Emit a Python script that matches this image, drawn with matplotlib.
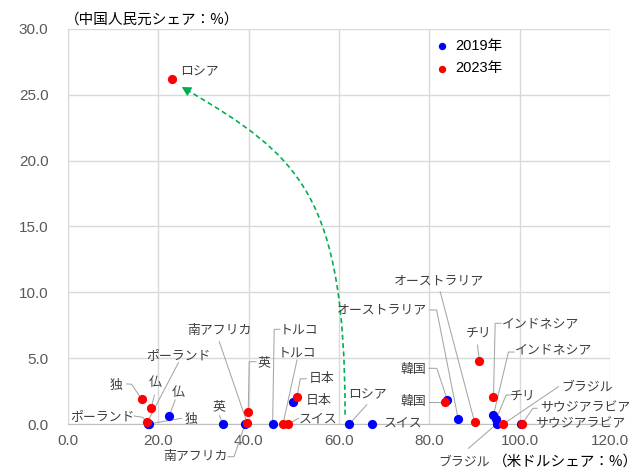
import matplotlib
matplotlib.use("Agg")
import matplotlib.pyplot as plt
import numpy as np
from matplotlib.path import Path
from matplotlib.patches import PathPatch
from matplotlib.ticker import FormatStrFormatter

plt.rcParams['font.family'] = ['Liberation Sans', 'Noto Sans CJK JP']

# ---- data: (USD share %, CNY share %) per country ----
countries = ['ロシア', '仏', '独', 'ポーランド', '英', '南アフリカ', 'トルコ', '日本',
             'スイス', '韓国', 'オーストラリア', 'インドネシア', 'チリ', 'ブラジル', 'サウジアラビア']
usd_2019 = [62.3, 22.4, 17.9, 17.8, 34.3, 39.2, 45.3, 49.9, 67.3, 84.0, 86.4, 94.2, 94.8, 94.9, 100.3]
cny_2019 = [0.0, 0.63, 0.0, 0.0, 0.0, 0.0, 0.0, 1.69, 0.0, 1.82, 0.36, 0.68, 0.38, 0.0, 0.0]
usd_2023 = [23.1, 18.4, 16.3, 17.6, 39.9, 39.7, 47.6, 50.7, 48.8, 83.5, 90.0, 94.2, 91.1, 96.4, 100.5]
cny_2023 = [26.2, 1.19, 1.88, 0.17, 0.89, 0.05, 0.0, 2.07, 0.0, 1.69, 0.17, 2.03, 4.78, 0.0, 0.0]
series_names = ['2019年', '2023年']
x_ticks = [0, 20, 40, 60, 80, 100, 120]
y_ticks = [0, 5, 10, 15, 20, 25, 30]

W, H = 641, 470
fig = plt.figure(figsize=(W / 100, H / 100), dpi=100)
ax = fig.add_axes([68 / W, 46 / H, 542 / W, 395 / H])
ax.set_xlim(x_ticks[0], x_ticks[-1])
ax.set_ylim(y_ticks[0], y_ticks[-1])
ax.set_xticks(x_ticks)
ax.set_yticks(y_ticks)
ax.xaxis.set_major_formatter(FormatStrFormatter('%.1f'))
ax.yaxis.set_major_formatter(FormatStrFormatter('%.1f'))
ax.grid(color='#D9D9D9', lw=1.0)
ax.set_axisbelow(True)
for side in ['top', 'right']:
    ax.spines[side].set_visible(False)
ax.spines['left'].set_color('#D9D9D9')
ax.spines['bottom'].set_color('#BFBFBF')
ax.tick_params(length=0, labelsize=11, labelcolor='#595959')
ax.tick_params(axis='y', pad=14)
ax.tick_params(axis='x', pad=7)

ax.scatter(usd_2019, cny_2019, s=44, c='#0000FF', linewidths=0, zorder=3,
           label=series_names[0], clip_on=False)
ax.scatter(usd_2023, cny_2023, s=44, c='#FF0000', linewidths=0, zorder=4,
           label=series_names[1], clip_on=False)


def shift(x, y, dx, dy):
    """Move a data point by (dx, dy) pixels, dy measured downwards."""
    X, Y = ax.transData.transform((x, y))
    return ax.transData.inverted().transform((X + dx, Y - dy))


# label layout: (country, year index, text offset px, leader waypoints px)
label_layout = [
    ('ロシア', 1, (26.7, -7), []),
    ('ポーランド', 1, (31, -65.9), [(31, -59.2)]),
    ('ポーランド', 0, (-46, -7), [(-14.3, -8), (-5.6, -6.7)]),
    ('独', 1, (-25.9, -13.5), [(-15, -15.3), (-10, -15)]),
    ('仏', 1, (4.5, -26.3), [(3.3, -13.3)]),
    ('仏', 0, (8.5, -23.2), [(6, -15.7)]),
    ('独', 0, (41.8, -4.2), [(32.7, -5.7)]),
    ('英', 0, (-3.7, -16.8), [(-3.4, -8.3)]),
    ('南アフリカ', 1, (-28.1, -92.5), [(-28, -81.6)]),
    ('英', 1, (15.9, -49.8), [(7.7, -50.6), (1, -50.6)]),
    ('南アフリカ', 0, (-50, 32.7), [(-17, 32.7), (-11, 32.7)]),
    ('トルコ', 0, (26.3, -94), [(7.3, -94.7), (1.6, -94.7)]),
    ('トルコ', 1, (14, -70.7), [(14, -64)]),
    ('日本', 1, (25, -18), [(9.3, -18), (3.3, -18)]),
    ('日本', 0, (25, -1.7), []),
    ('スイス', 1, (30, -5), [(10, -5.7)]),
    ('ロシア', 0, (18.2, -29.3), [(17.4, -19.3)]),
    ('スイス', 0, (31.3, -0.5), [(11.3, 0)]),
    ('オーストラリア', 1, (-35.1, -140.9), [(-34.3, -130)]),
    ('オーストラリア', 0, (-76.6, -109.3), [(-28.3, -109.3), (-21.6, -109.3)]),
    ('韓国', 0, (-34, -31), [(-18.3, -31.7), (-10.6, -31.7)]),
    ('韓国', 1, (-31.7, 0), [(-15.7, 0)]),
    ('チリ', 1, (-1, -27.7), [(-2, -16)]),
    ('インドネシア', 1, (47.5, -73.1), [(7.7, -74), (1.7, -74)]),
    ('インドネシア', 0, (60, -64.2), [(20.7, -63), (15, -63)]),
    ('チリ', 0, (26.5, -23.2), [(14, -24), (10, -24)]),
    ('ブラジル', 1, (83.4, -36.5), [(55, -37.3)]),
    ('ブラジル', 0, (-32.5, 37.7), [(-28.2, 24.3)]),
    ('サウジアラビア', 1, (63.3, -16.5), [(15.3, -15.7), (11, -15.7)]),
    ('サウジアラビア', 0, (58.8, 0), [(11.3, 0)]),
]

xs = [usd_2019, usd_2023]
ys = [cny_2019, cny_2023]
for name, yr, toff, waypoints in label_layout:
    i = countries.index(name)
    px, py = xs[yr][i], ys[yr][i]
    tx, ty = shift(px, py, *toff)
    ax.text(tx, ty, name, ha='center', va='center', fontsize=9.3, color='#404040',
            family=['Noto Sans CJK JP'], zorder=5, clip_on=False)
    if waypoints:
        pts = [shift(px, py, *w) for w in waypoints] + [(px, py)]
        lx, ly = zip(*pts)
        ax.plot(lx, ly, color='#A6A6A6', lw=0.75, zorder=2, clip_on=False)

# curved dashed arrow: Russia 2019 -> Russia 2023
ri = countries.index('ロシア')
S = ax.transData.transform(shift(usd_2019[ri], cny_2019[ri], -4.3, -9.3))
E = ax.transData.transform(shift(usd_2023[ri], cny_2023[ri], 9.5, 8))
span_x, span_y = S[0] - E[0], E[1] - S[1]
C1 = S + np.array([0, 0.67 * span_y])
C2 = E + np.array([0.72 * span_x, -0.21 * span_y])
d = (C2 - E) / np.hypot(*(C2 - E))
B = E + d * 6
inv = ax.transData.inverted()
curve = Path(inv.transform([S, C1, C2, B]),
             [Path.MOVETO, Path.CURVE4, Path.CURVE4, Path.CURVE4])
ax.add_patch(PathPatch(curve, fill=False, edgecolor='#00B050', lw=1.2,
                       linestyle=(0, (3, 2)), zorder=2))
ax.annotate('', xy=inv.transform(E), xytext=inv.transform(E + d * 7),
            arrowprops=dict(arrowstyle='-|>,head_length=0.55,head_width=0.3',
                            color='#00B050', lw=0.8, shrinkA=0, shrinkB=0,
                            mutation_scale=10), zorder=2)

ax.legend(frameon=False, loc='center left', bbox_to_anchor=(0.676, 0.929),
          fontsize=10.5, handlelength=1.0, handletextpad=0.4, borderpad=0,
          borderaxespad=0, labelspacing=0.6, markerscale=0.8, scatterpoints=1)

fig.text(65 / W, 1 - 20 / H, '（中国人民元シェア：%）', ha='left', va='center',
         fontsize=10.5, color='black', family=['Noto Sans CJK JP'])
fig.text(638 / W, 1 - 462 / H, '（米ドルシェア：%）', ha='right', va='center',
         fontsize=10.5, color='black', family=['Noto Sans CJK JP'])

fig.savefig('out.png', dpi=100)
